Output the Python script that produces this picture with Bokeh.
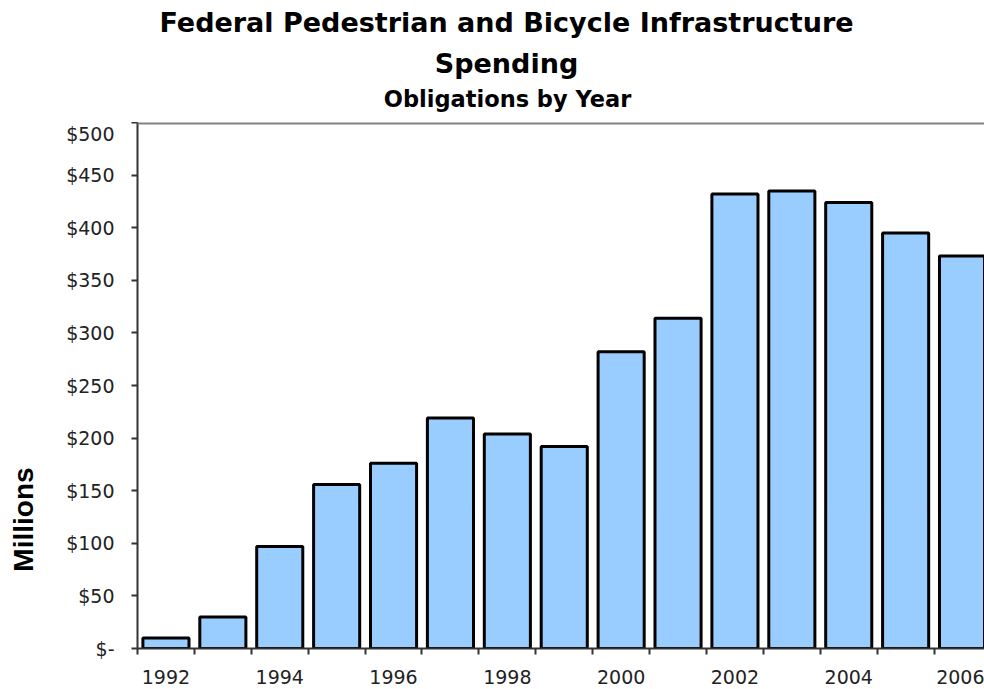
import math
from bokeh.plotting import figure
from bokeh.layouts import column, row
from bokeh.models import FixedTicker, Span, Range1d
from bokeh.core.properties import value
from bokeh.embed import file_html
from bokeh.resources import INLINE

years = [1992, 1993, 1994, 1995, 1996, 1997, 1998, 1999, 2000, 2001, 2002, 2003, 2004, 2005, 2006]
obligations = [10, 30, 97, 156, 176, 219, 204, 192, 282, 314, 432, 435, 424, 395, 373]
y_ticks = [0, 50, 100, 150, 200, 250, 300, 350, 400, 450, 500]
y_tick_labels = ["$-", "$50", "$100", "$150", "$200", "$250", "$300", "$350", "$400", "$450", "$500"]
x_label_years = [1992, 1994, 1996, 1998, 2000, 2002, 2004, 2006]
title_lines = ["Federal Pedestrian and Bicycle Infrastructure", "Spending"]
subtitle = "Obligations by Year"
y_title = "Millions"

FONT = "DejaVu Sans"
FONT_Y = "Liberation Sans"


def blank(width, height):
    f = figure(width=width, height=height, output_backend="svg", toolbar_location=None,
               x_range=Range1d(0, width), y_range=Range1d(height, 0),
               min_border=0, min_border_left=0, min_border_right=0,
               min_border_top=0, min_border_bottom=0)
    f.axis.visible = False
    f.grid.visible = False
    f.outline_line_color = None
    return f


# ---- header with the titles
header = blank(984, 122)
header.text(x=[506, 506], y=[22, 63], text=title_lines, text_align="center",
            text_baseline="middle", text_font=value(FONT), text_font_size="27px",
            text_font_style="bold", text_color="black")
header.text(x=[507], y=[98], text=[subtitle], text_align="center",
            text_baseline="middle", text_font=value(FONT), text_font_size="22.5px",
            text_font_style="bold", text_color="black")

# ---- side panel with the y title
side = blank(60, 567)
side.text(x=[23], y=[428], text=[y_title], angle=math.pi / 2, text_align="center",
          text_baseline="middle", text_font=value(FONT_Y), text_font_size="28px",
          text_font_style="bold", text_color="black")

# ---- main chart
p = figure(width=924, height=567, output_backend="svg", toolbar_location=None,
           x_range=Range1d(1991.5, 2006.386), y_range=Range1d(0, 500),
           min_border_left=77, min_border_top=0, min_border_right=0, min_border_bottom=41)
p.outline_line_color = None
p.grid.visible = False

p.vbar(x=years, top=obligations, width=0.81, fill_color="#99CCFF",
       line_color="black", line_width=3)

# top frame line
p.add_layout(Span(location=500, dimension="width", line_color="#808080", line_width=4))

# y axis
ya = p.yaxis[0]
ya.ticker = FixedTicker(ticks=y_ticks)
ya.major_label_overrides = {t: l for t, l in zip(y_ticks, y_tick_labels)}
ya.major_label_text_font = FONT
ya.major_label_text_font_size = "19px"
ya.major_label_text_color = "#222222"
ya.major_label_standoff = 17
ya.major_tick_out = 6
ya.major_tick_in = 0
ya.minor_tick_line_color = None
ya.axis_line_color = "#333333"
ya.axis_line_width = 2
ya.major_tick_line_color = "#333333"
ya.major_tick_line_width = 2

# x axis
xa = p.xaxis[0]
xa.ticker = FixedTicker(ticks=x_label_years, minor_ticks=[y - 0.5 for y in years] + [years[-1] + 0.5])
xa.major_label_overrides = {y: str(y) for y in x_label_years}
xa.major_label_text_font = FONT
xa.major_label_text_font_size = "19px"
xa.major_label_text_color = "#222222"
xa.major_label_standoff = 15
xa.major_tick_out = 0
xa.major_tick_in = 0
xa.minor_tick_out = 6
xa.minor_tick_in = 0
xa.minor_tick_line_color = "#333333"
xa.minor_tick_line_width = 2
xa.axis_line_color = "#333333"
xa.axis_line_width = 2

layout = column(header, row(side, p, spacing=0), spacing=0)

open("out.html", "w").write(file_html(layout, INLINE))
